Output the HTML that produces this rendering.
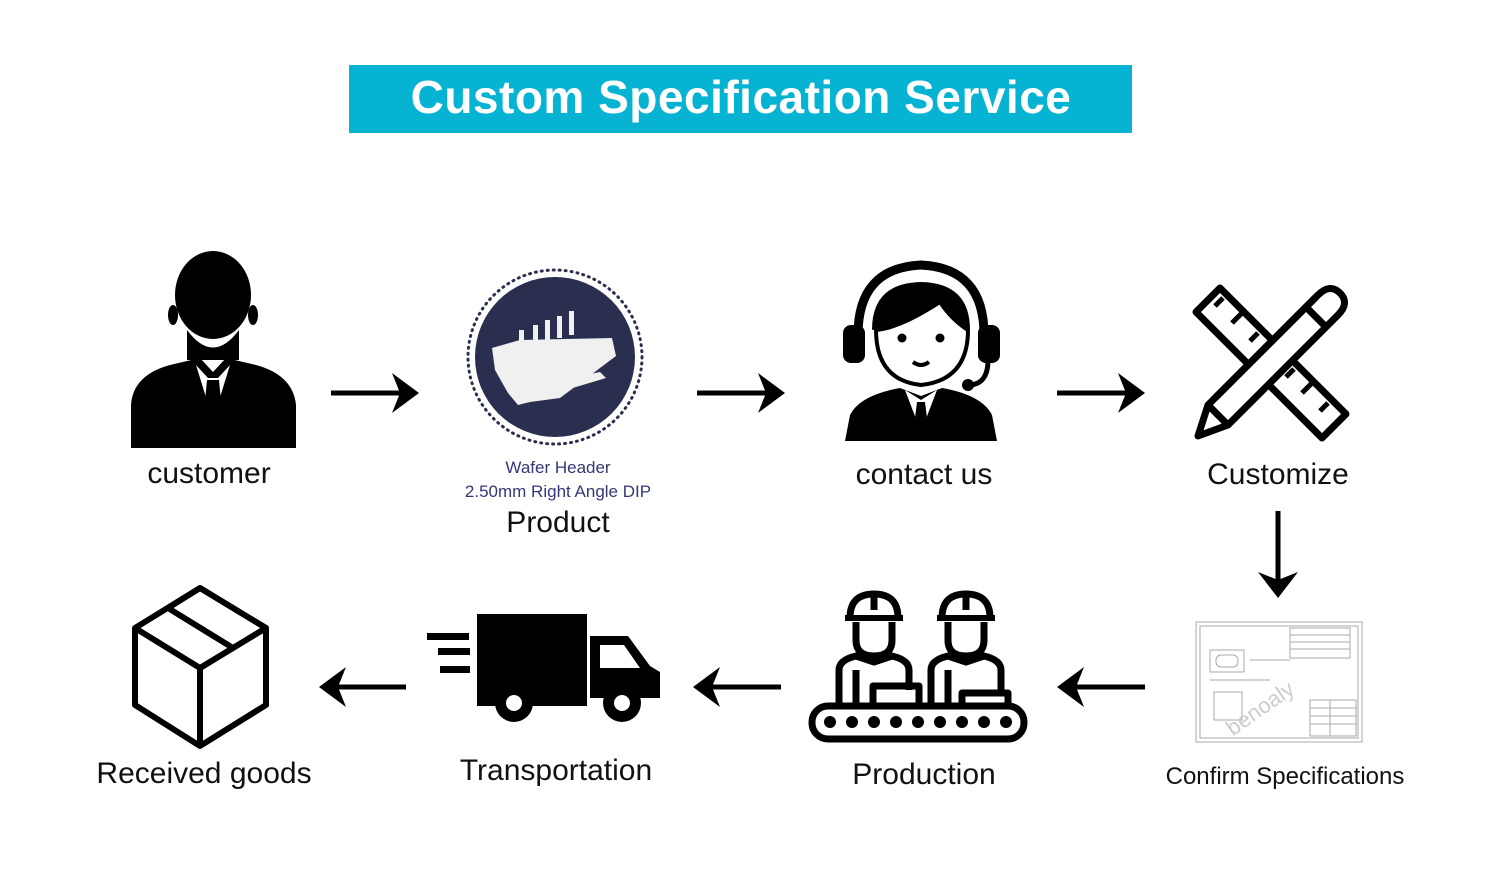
<!DOCTYPE html>
<html><head><meta charset="utf-8"><style>
html,body{margin:0;padding:0;background:#fff;}
body{width:1500px;height:879px;position:relative;overflow:hidden;font-family:"Liberation Sans",sans-serif;}
.t{position:absolute;transform:translateX(-50%);white-space:nowrap;color:#111;}
</style></head><body>
<div style="position:absolute;left:349px;top:65px;width:783px;height:68px;background:#07b3d3;"></div>
<div class="t" style="left:741px;top:70px;font-size:46px;font-weight:bold;color:#fff;letter-spacing:0.5px;">Custom Specification Service</div>

<svg width="1500" height="879" style="position:absolute;left:0;top:0">
<g stroke="#000" stroke-width="5" fill="none">
<path d="M331 393H405"/>
<path d="M697 393H771"/>
<path d="M1057 393H1131"/>
<path d="M1278 511V585"/>
<path d="M1145 687H1071"/>
<path d="M781 687H707"/>
<path d="M406 687H333"/>
</g>
<g fill="#000">
<path d="M392 373 L419 393 L392 413 L400 393Z"/>
<path d="M758 373 L785 393 L758 413 L766 393Z"/>
<path d="M1118 373 L1145 393 L1118 413 L1126 393Z"/>
<path d="M1258 572 L1278 598 L1298 572 L1278 580Z"/>
<path d="M1084 667 L1057 687 L1084 707 L1076 687Z"/>
<path d="M720 667 L693 687 L720 707 L712 687Z"/>
<path d="M346 667 L319 687 L346 707 L338 687Z"/>
</g>

<!-- customer -->
<g fill="#000">
<ellipse cx="213" cy="295" rx="38" ry="44"/>
<ellipse cx="173" cy="315" rx="5" ry="10"/><ellipse cx="253" cy="315" rx="5" ry="10"/>
<path d="M187 330 Q213 365 239 330 L239 360 L187 360Z"/>
<path d="M131 448 L131 405 Q133 375 170 365 L200 358 L213 372 L226 358 L256 365 Q293 375 296 405 L296 448Z"/>
</g>
<path d="M196 365 L213 420 L230 365 L218 378 L208 378Z" fill="#fff"/>
<path d="M207 380 L219 380 L222 412 L213 422 L204 412Z" fill="#000"/>

<!-- product -->
<circle cx="555" cy="357" r="87" fill="none" stroke="#2b2f4f" stroke-width="3" stroke-dasharray="1 5" stroke-linecap="round"/>
<circle cx="555" cy="357" r="80" fill="#2b2f4f"/>
<g fill="#f0f0f0">
<path d="M492 348 L520 340 L612 338 L616 356 L560 398 L530 402 L518 405 L508 393 L495 370Z"/>
<rect x="519" y="330" width="5" height="22"/><rect x="533" y="325" width="5" height="22"/><rect x="545" y="320" width="5" height="22"/><rect x="557" y="316" width="5" height="22"/><rect x="569" y="311" width="5" height="24"/>
<path d="M560 380 L600 372 L606 378 L566 390Z"/>
</g>

<!-- contact us -->
<g>
<path d="M858 335 Q858 268 921 265 Q984 268 984 335" fill="none" stroke="#000" stroke-width="9"/>
<rect x="843" y="325" width="22" height="38" rx="8" fill="#000"/>
<rect x="978" y="325" width="22" height="38" rx="8" fill="#000"/>
<path d="M988 360 Q988 385 968 385" fill="none" stroke="#000" stroke-width="5"/>
<circle cx="968" cy="385" r="6" fill="#000"/>
<path d="M872 330 Q872 283 921 282 Q970 283 970 330 Q950 318 940 300 Q910 325 872 330Z" fill="#000"/>
<path d="M876 330 Q900 328 940 302 Q952 320 968 330 Q968 380 921 385 Q876 380 876 330Z" fill="#fff" stroke="#000" stroke-width="4"/>
<circle cx="902" cy="338" r="4.5" fill="#000"/><circle cx="940" cy="338" r="4.5" fill="#000"/>
<path d="M913 362 Q921 368 929 362" stroke="#000" stroke-width="4" fill="none"/>
<path d="M845 441 L850 415 Q860 395 900 388 L921 396 L942 388 Q982 395 992 415 L997 441Z" fill="#000"/>
<path d="M905 390 L921 432 L937 390 L921 400Z" fill="#fff"/>
<path d="M917 402 L925 402 L928 426 L921 436 L914 426Z" fill="#000"/>
</g>

<!-- customize -->
<g stroke="#000" stroke-width="7" fill="none" stroke-linejoin="round">
<path d="M1196 312 L1220 288 L1346 414 L1322 438Z"/>
<path d="M1215 306 l8 -8 M1232 323 l12 -12 M1250 341 l8 -8 M1286 377 l8 -8 M1302 393 l12 -12 M1320 411 l8 -8" stroke-width="5"/>
<path d="M1318 295 Q1330 283 1340 293 Q1350 303 1338 315 L1228 425 L1198 436 L1208 405Z" fill="#fff"/>
<path d="M1306 307 L1326 327 M1208 405 L1228 425 M1216 397 L1316 297"/>
</g>

<!-- confirm specs -->
<g stroke="#aaa" stroke-width="1" fill="none">
<rect x="1196" y="622" width="166" height="120"/>
<rect x="1200" y="626" width="158" height="112"/>
<rect x="1210" y="650" width="34" height="22"/>
<rect x="1216" y="655" width="22" height="12" rx="5"/>
<rect x="1214" y="692" width="28" height="28"/>
<path d="M1290 628h60v30h-60z M1290 635h60 M1290 642h60 M1290 649h60 M1310 700h46v36h-46z M1310 708h46 M1310 716h46 M1310 724h46 M1330 700v36 M1250 660h40 M1210 680h60"/>
</g>
<text x="1215" y="720" font-size="22" fill="#ccc" transform="rotate(-35 1250 700)" font-family="Liberation Sans">benoaly</text>

<!-- box -->
<g stroke="#000" stroke-width="6" fill="none" stroke-linejoin="round">
<path d="M135 628 L200 588 L266 628 L266 705 L200 746 L135 705Z"/>
<path d="M135 628 L200 668 L266 628 M200 668 V746"/>
<path d="M168 608 L233 648 M168 608 L200 588"/>
</g>

<!-- truck -->
<g fill="#000">
<rect x="477" y="614" width="110" height="92"/>
<path d="M590 636 L628 636 L650 666 L660 672 L660 698 L590 698Z"/>
<path d="M600 645 L624 645 L640 668 L600 668Z" fill="#fff"/>
<rect x="427" y="633" width="42" height="7"/><rect x="438" y="648" width="32" height="7"/><rect x="440" y="666" width="30" height="7"/>
<circle cx="514" cy="703" r="19"/><circle cx="622" cy="703" r="19"/>
<circle cx="514" cy="703" r="8" fill="#fff"/><circle cx="622" cy="703" r="8" fill="#fff"/>
</g>

<!-- production -->
<g stroke="#000" stroke-width="7" fill="none" stroke-linejoin="round">
<rect x="812" y="706" width="212" height="33" rx="16"/>
<g id="w">
<path d="M850 618 Q850 594 874 594 Q898 594 898 618"/>
<path d="M845 618 H903" stroke-width="6"/>
<path d="M874 594 V610"/>
<path d="M856 622 V640 Q856 656 874 656 Q892 656 892 640 V622"/>
<path d="M839 705 V670 Q839 660 856 656 L874 662 L892 656 Q909 660 909 670 V690"/>
<path d="M856 670 V705"/>
</g>
<use href="#w" transform="translate(92 0)"/>
<rect x="873" y="686" width="46" height="20"/>
<rect x="962" y="693" width="46" height="13"/>
</g>
<g fill="#000">
<circle cx="830" cy="722" r="6"/><circle cx="852" cy="722" r="6"/><circle cx="874" cy="722" r="6"/><circle cx="896" cy="722" r="6"/><circle cx="918" cy="722" r="6"/><circle cx="940" cy="722" r="6"/><circle cx="962" cy="722" r="6"/><circle cx="984" cy="722" r="6"/><circle cx="1006" cy="722" r="6"/>
</g>
</svg>

<div class="t" style="left:209px;top:457px;font-size:30px;">customer</div>
<div class="t" style="left:558px;top:458px;font-size:17px;color:#343875;">Wafer Header</div>
<div class="t" style="left:558px;top:482px;font-size:17px;color:#343875;">2.50mm Right Angle DIP</div>
<div class="t" style="left:558px;top:506px;font-size:30px;">Product</div>
<div class="t" style="left:924px;top:458px;font-size:30px;">contact us</div>
<div class="t" style="left:1278px;top:458px;font-size:30px;">Customize</div>
<div class="t" style="left:204px;top:757px;font-size:30px;">Received goods</div>
<div class="t" style="left:556px;top:754px;font-size:30px;">Transportation</div>
<div class="t" style="left:924px;top:758px;font-size:30px;">Production</div>
<div class="t" style="left:1285px;top:763px;font-size:24px;">Confirm Specifications</div>
</body></html>
